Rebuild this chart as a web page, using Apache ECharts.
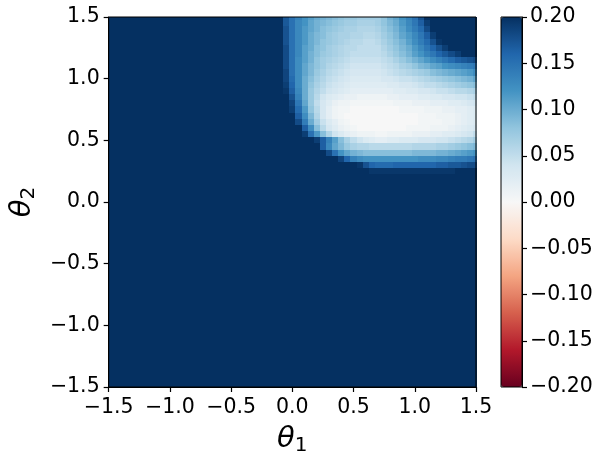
<!DOCTYPE html>
<html>
<head>
<meta charset="utf-8">
<script src="https://cdn.jsdelivr.net/npm/echarts@6/dist/echarts.min.js"></script>
<style>
html,body{margin:0;padding:0;background:#fff;}
#chart{width:603px;height:463px;}
</style>
</head>
<body>
<div id="chart"></div>
<script>
// ---- data ----
// tick labels
const thetaTicks = [-1.5, -1.0, -0.5, 0.0, 0.5, 1.0, 1.5];
const colorTicks = [-0.20, -0.15, -0.10, -0.05, 0.00, 0.05, 0.10, 0.15, 0.20];
// grid spacing of the sampled field (theta units)
const cellStep = 0.05;
// value shown everywhere outside the sampled window (saturated colour)
const saturatedValue = 0.20;
// columns (theta1) and rows (theta2) of the sampled window
const theta1Cols = [-0.10,-0.05,0.00,0.05,0.10,0.15,0.20,0.25,0.30,0.35,0.40,0.45,0.50,0.55,0.60,0.65,
                    0.70,0.75,0.80,0.85,0.90,0.95,1.00,1.05,1.10,1.15,1.20,1.25,1.30,1.35,1.40,1.45,1.50];
const theta2Rows = [1.50,1.45,1.40,1.35,1.30,1.25,1.20,1.15,1.10,1.05,1.00,0.95,0.90,
                    0.85,0.80,0.75,0.70,0.65,0.60,0.55,0.50,0.45,0.40,0.35,0.30,0.25];
// field values, in hundredths, one row per theta2 (top to bottom), one entry per theta1
const valueRowsHundredths = [
 [20,17,15,13.5,12,11,10,9.5,9,8.5,8,7.5,7.5,7,7,7, 7,8,9.5,10.5,12,13.5,15,17.5,20,20,20,20,20,20,20,20,20],
 [20,17,15,13,12,10.5,9.5,9,8.5,8,7.5,7,7,6.5,6.5,6.5, 7,8,9,10,11.5,13,14.5,16.5,19,20,20,20,20,20,20,20,20],
 [20,17.5,15,13,11.5,10.5,9.5,8.5,8,7.5,7,6.5,6.5,6,6,6, 6.5,7.5,8.5,9.5,11,12.5,14,15.5,18,20,20,20,20,20,20,20,20],
 [20,17.5,15,13,11.5,10,9,8.5,7.5,7,6.5,6.5,6,6,5.5,5.5, 6,7,8,9,10.5,11.5,13,14.5,16.5,19,20,20,20,20,20,20,20],
 [20,17.5,15,13,11.5,10,9,8,7.5,7,6.5,6,5.5,5.5,5,5, 5.5,6.5,7.5,8.5,9.5,11,12.5,14,15.5,17.5,19.5,20,20,20,20,20,20],
 [20,18,15,13,11,10,8.5,8,7,6.5,6,5.5,5.5,5,5,5, 5,6,7,8,9,10,11.5,13,14.5,16,17.5,19,20,20,20,20,20],
 [20,18,15,13,11,9.5,8.5,7.5,7,6.5,6,5.5,5,5,5,5, 5,5.5,6.5,7.5,8.5,9.5,11,12,13.5,14.5,16,17,18,19,20,20,20],
 [20,18,15,12.5,11,9.5,8,7,6.5,6,5.5,5,4.5,4.5,4.5,4.5, 4.5,5,5.5,6.5,7.5,8.5,9.5,10.5,11.5,12.5,13.5,14.5,15.5,16.5,17,17.5,18],
 [20,18,15,12.5,10.5,9,8,7,6,5.5,5,4.5,4,4,4,4, 4,4.5,5,5.5,6.5,7,8,9,9.5,10.5,11,12,12.5,13,13.5,14,14.5],
 [20,18.5,15,12.5,10.5,9,7.5,6.5,5.5,5,4.5,4,3.5,3.5,3.5,3.5, 3.5,4,4.5,5,5.5,6,6.5,7,7.5,8.5,9,9.5,10,10.5,11,11.5,12.5],
 [20,18.5,15.5,12.5,10,8.5,7,6,5,4.5,4,3.5,3,3,3,3, 3,3.5,3.5,4,4.5,4.5,5,5.5,6,6.5,7,7.5,8,8.5,9,9.5,10.5],
 [20,19,16,12.5,10,8,6.5,5.5,4.5,4,3.5,3,2.5,2.5,2.5,2.5, 2.5,2.5,3,3,3.5,3.5,4,4.5,5,5,5.5,6,6.5,7,7.5,8,8.5],
 [20,19.5,16.5,13,10,7.5,6,5,4,3.5,3,2.5,2,2,2,2, 2,2,2,2.5,2.5,3,3,3.5,3.5,4,4.5,4.5,5,5.5,5.5,6,6.5],
 [20,20,17.5,13.5,10,7.5,5.5,4,3,2.5,2,1.5,1.5,1,1,1, 1,1,1.5,1.5,2,2,2,2.5,2.5,3,3,3.5,3.5,4,4,4.5,5],
 [20,20,18.5,14.5,10.5,7.5,5,3.5,2.5,1.5,1,1,0.5,0.5,0.5,0.5, 0.5,0.5,0.5,1,1,1,1.5,1.5,1.5,2,2,2,2.5,2.5,3,3.5,4],
 [20,20,19,15.5,11.5,8,5.5,3.5,2,1,0.5,0.5,0,0,0,0, 0,0,0,0,0.5,0.5,0.5,0.5,1,1,1,1.5,1.5,2,2,2.5,3],
 [20,20,20,16.5,12.5,9,6,3.5,2,1,0.5,0,0,0,0,0, 0,0,0,0,0,0,0,0.5,0.5,0.5,1,1,1,1.5,2,2.5,3],
 [20,20,20,18,14,10,7,4.5,3,2,1,0.5,0,0,0,0, 0,0,0,0,0,0,0,0.5,0.5,0.5,0.5,1,1,1.5,2,2.5,3],
 [20,20,20,20,16.5,12.5,8.5,5.5,3.5,2.5,1.5,1,0.5,0,0,0, 0,0,0,0,0,0.5,0.5,0.5,0.5,1,1,1,1.5,2,2.5,3,3.5],
 [20,20,20,20,19,15,11.5,8.5,6,4,3,2,1.5,1,1,1, 0.5,0.5,1,1,1,1,1.5,1.5,1.5,2,2,2.5,2.5,3,3.5,4,5],
 [20,20,20,20,20,20,19,16.5,13.5,11,8.5,6.5,5,4,3,2.5, 2,2,2.5,2.5,3,3,3,3.5,3.5,3.5,4,4,4.5,5,5.5,6,7],
 [20,20,20,20,20,20,20,16.5,13,10.5,9,7.5,6.5,6,6,5.5, 5.5,5.5,5.5,5.5,5.5,5.5,6,6,6,6,6.5,6.5,7,7.5,8,8.5,9],
 [20,20,20,20,20,20,20,20,18,15,12,10.5,9.5,9,8.5,8.5, 8.5,8.5,8.5,8.5,8.5,8.5,9,9,9,9,9.5,9.5,10,10.5,11,11.5,12],
 [20,20,20,20,20,20,20,20,20,20,18.5,16,13.5,12.5,12,12, 12,12,12,12,12,12,12,12.5,12.5,12.5,13,13,13.5,14,14,14.5,15],
 [20,20,20,20,20,20,20,20,20,20,20,20,20,19.5,17.5,16, 15.5,15.5,15.5,16,16,16,16,16,16,16,16.5,16.5,17,17,17.5,18,18],
 [20,20,20,20,20,20,20,20,20,20,20,20,20,20,20,19.5, 19.5,19.5,19.5,19.5,19.5,19.5,19.5,19.5,19.5,19.5,19.5,19.5,19.5,20,20,20,20]
];
// RdBu colour map, low to high
const rdbu = ['#67001f','#b2182b','#d6604d','#f4a582','#fddbc7','#f7f7f7',
              '#d1e5f0','#92c5de','#4393c3','#2166ac','#053061'];

// ---- build cells ----
const key = (a, b) => Math.round(a / cellStep) + ',' + Math.round(b / cellStep);
const sampled = {};
theta2Rows.forEach((t2, r) => {
  theta1Cols.forEach((t1, c) => {
    sampled[key(t1, t2)] = valueRowsHundredths[r][c] / 100;
  });
});
const tMin = thetaTicks[0], tMax = thetaTicks[thetaTicks.length - 1];
const nCells = Math.round((tMax - tMin) / cellStep);
const cells = [];
for (let i = 0; i <= nCells; i++) {
  for (let j = 0; j <= nCells; j++) {
    const t1 = +(tMin + i * cellStep).toFixed(4);
    const t2 = +(tMin + j * cellStep).toFixed(4);
    const k = key(t1, t2);
    cells.push([t1, t2, k in sampled ? sampled[k] : saturatedValue]);
  }
}

const fmt = (v, d) => v.toFixed(d).replace('-', '\u2212');
const FONT = 'DejaVu Sans';
const tickStyle = {fontSize: 20.5, color: '#000', fontFamily: FONT};
const nameRich = {
  t: {fontSize: 29, fontStyle: 'italic', fontFamily: FONT, color: '#000'},
  s: {fontSize: 20, fontFamily: FONT, color: '#000', padding: [13, 0, 0, 0]}
};
const lineStyle = {color: '#000', width: 1};
const tickLine = {color: '#000', width: 1.2};

const chart = echarts.init(document.getElementById('chart'), null, {renderer: 'canvas'});
chart.setOption({
  backgroundColor: '#fff',
  animation: false,
  grid: [
    {left: 107, top: 17, width: 369, height: 370, show: true, borderColor: '#000', borderWidth: 1, z: 10, backgroundColor: 'transparent'},
    {left: 501, top: 17, width: 21, height: 370, show: true, borderColor: '#000', borderWidth: 1, z: 10, backgroundColor: 'transparent'}
  ],
  xAxis: [
    {type: 'value', gridIndex: 0, min: tMin, max: tMax, interval: thetaTicks[1] - thetaTicks[0], z: 10,
     axisLine: {show: true, onZero: false, lineStyle: lineStyle}, splitLine: {show: false},
     axisTick: {show: true, inside: false, length: 5, lineStyle: tickLine},
     axisLabel: Object.assign({margin: 10, formatter: v => fmt(v, 1)}, tickStyle),
     name: '{t|θ}{s|1}', nameLocation: 'middle', nameGap: 36,
     nameTextStyle: {rich: nameRich}},
    {type: 'value', gridIndex: 1, show: false, min: 0, max: 1}
  ],
  yAxis: [
    {type: 'value', gridIndex: 0, min: tMin, max: tMax, interval: thetaTicks[1] - thetaTicks[0], z: 10,
     axisLine: {show: true, onZero: false, lineStyle: lineStyle}, splitLine: {show: false},
     axisTick: {show: true, inside: false, length: 5, lineStyle: tickLine},
     axisLabel: Object.assign({margin: 9, formatter: v => fmt(v, 1)}, tickStyle),
     name: '{t|θ}{s|2}', nameLocation: 'middle', nameGap: 62, nameRotate: 90,
     nameTextStyle: {rich: nameRich}},
    {type: 'value', gridIndex: 1, position: 'right', min: colorTicks[0], max: colorTicks[colorTicks.length - 1],
     interval: 0.05, z: 10, axisLine: {show: true, onZero: false, lineStyle: lineStyle}, splitLine: {show: false},
     axisTick: {show: true, inside: false, length: 5, lineStyle: tickLine},
     axisLabel: Object.assign({margin: 8, formatter: v => fmt(v, 2)}, tickStyle)}
  ],
  visualMap: {
    type: 'continuous', seriesIndex: 0, dimension: 2,
    min: colorTicks[0], max: colorTicks[colorTicks.length - 1],
    inRange: {color: rdbu},
    left: 501, top: 17, itemWidth: 21, itemHeight: 370, padding: 0,
    calculable: false, hoverLink: false, orient: 'vertical', text: null
  },
  series: [{
    type: 'custom', xAxisIndex: 0, yAxisIndex: 0, clip: true, progressive: 0,
    encode: {x: 0, y: 1},
    data: cells,
    renderItem: function (params, api) {
      const x = api.value(0), y = api.value(1), h = cellStep / 2;
      const p0 = api.coord([x - h, y + h]);
      const p1 = api.coord([x + h, y - h]);
      const x0 = Math.round(p0[0]), y0 = Math.round(p0[1]);
      const x1 = Math.round(p1[0]), y1 = Math.round(p1[1]);
      return {type: 'rect', shape: {x: x0, y: y0, width: x1 - x0, height: y1 - y0},
              style: {fill: api.visual('color')}};
    }
  }]
});
</script>
</body>
</html>
